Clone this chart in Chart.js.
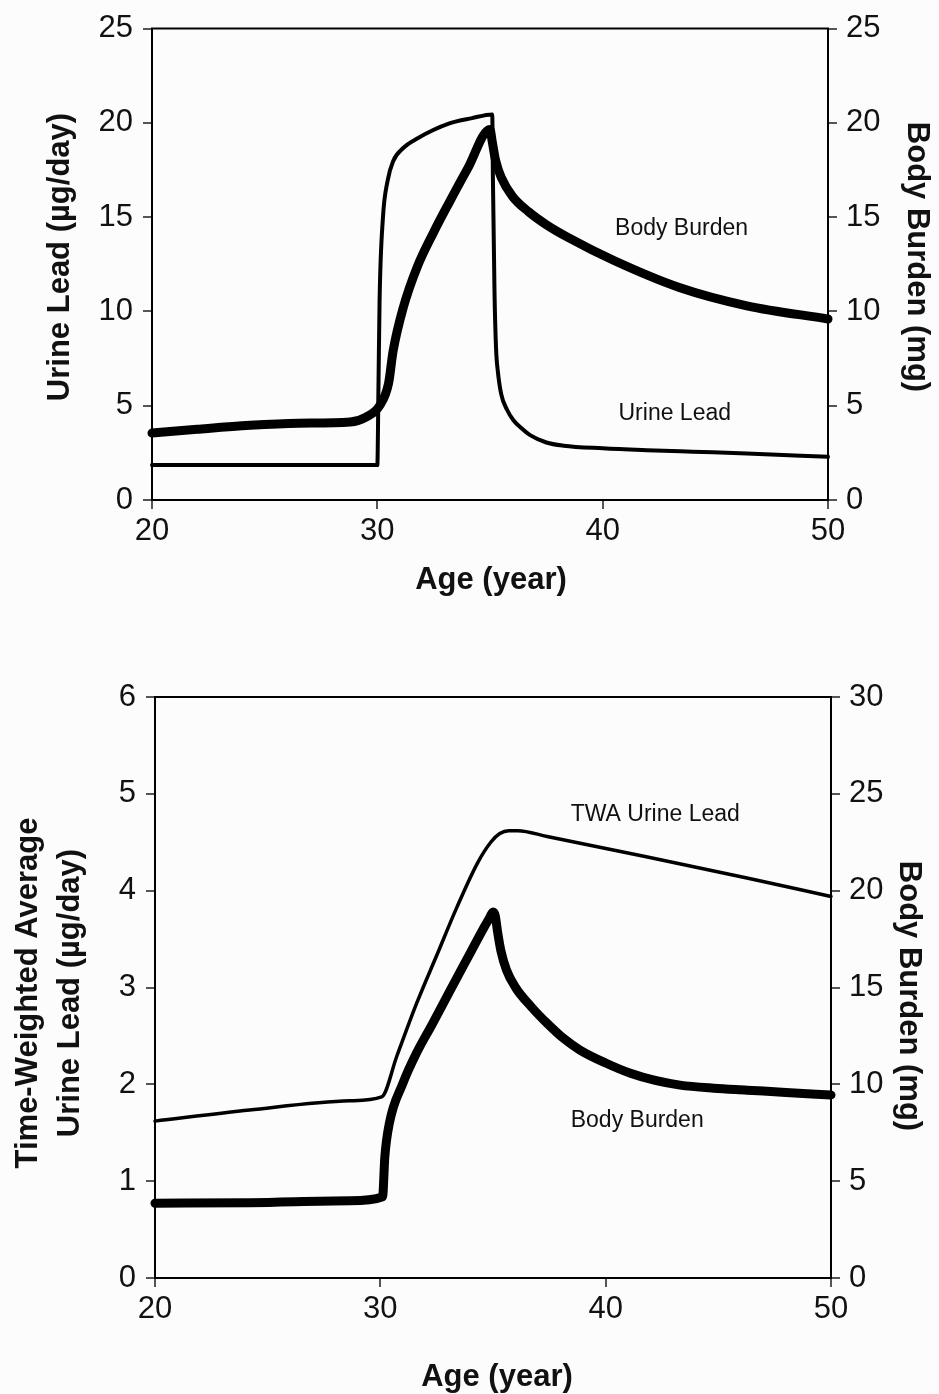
<!DOCTYPE html>
<html>
<head>
<meta charset="utf-8">
<script src="https://cdn.jsdelivr.net/npm/chart.js@4.4.1/dist/chart.umd.min.js"></script>
<style>
  html, body { margin: 0; padding: 0; background: #fcfcfc; }
  #wrap { position: relative; width: 939px; height: 1394px; }
  .panel { position: absolute; left: 0; width: 939px; }
  #p1 { top: 0; height: 600px; }
  #p2 { top: 600px; height: 794px; }
</style>
</head>
<body>
<div id="wrap">
  <div class="panel" id="p1"><canvas id="c1"></canvas></div>
  <div class="panel" id="p2"><canvas id="c2"></canvas></div>
</div>
<script>
// ---- Upper panel: daily urine lead and body burden ----
const urineAge  = [20, 25, 30.0, 30.05, 30.1, 30.25, 30.45, 30.7, 31.15, 31.75, 33.2, 34.2, 35.1,
                   35.13, 35.2, 35.27, 35.35, 35.5, 35.75, 36.04, 36.4, 36.78, 37.5, 38.26, 40.0,
                   41.96, 44.0, 46.4, 50];
const urineLead = [1.85, 1.86, 1.85, 6.0, 10.6, 15.0, 16.9, 17.97, 18.67, 19.16, 19.97, 20.25, 20.45,
                   17.0, 11.0, 8.0, 6.8, 5.6, 4.8, 4.23, 3.8, 3.44, 3.05, 2.88, 2.74,
                   2.64, 2.56, 2.47, 2.29];

const burdenAge = [20, 22, 24.35, 26.5, 28.8, 29.5, 30.1, 30.5, 30.7, 31.15, 31.75, 32.5, 33.2, 34.0,
                   35.0, 35.1, 35.25, 35.5, 36.0, 36.7, 37.5, 38.5, 40.5, 43.4, 46.4, 50];
const burden    = [3.55, 3.75, 3.96, 4.07, 4.14, 4.4, 5.0, 6.2, 7.9, 10.2, 12.3, 14.2, 15.8, 17.56,
                   19.65, 19.0, 18.0, 17.1, 16.1, 15.3, 14.6, 13.9, 12.7, 11.27, 10.3, 9.6];

// ---- Lower panel: time-weighted average urine lead and body burden ----
const twaAge    = [20, 24.2, 28.65, 30.06, 30.73, 31.6, 32.5, 33.4, 34.3, 34.9, 35.3, 35.7, 36.1,
                   37.4, 41.8, 46.27, 50];
const twaLead   = [1.62, 1.735, 1.83, 1.87, 2.29, 2.83, 3.33, 3.83, 4.28, 4.5, 4.59, 4.62, 4.62,
                   4.56, 4.35, 4.13, 3.94];

const burden2Age = [20, 24.2, 28.65, 30.1, 30.2, 30.4, 31.0, 31.6, 32.3, 33.1, 34.0, 34.6, 34.85, 35.0,
                    35.1, 35.2, 35.35, 35.6, 36.0, 36.7, 37.4, 38.1, 38.86, 40.0, 41.1, 42.2, 43.3,
                    44.8, 46.27, 48.0, 50];
const burden2    = [3.86, 3.89, 3.99, 4.2, 6.26, 7.99, 10.05, 11.6, 13.1, 14.85, 16.8, 18.1, 18.6, 18.9,
                    18.7, 17.9, 16.9, 15.9, 15.0, 14.0, 13.15, 12.4, 11.77, 11.1, 10.57, 10.2, 9.96,
                    9.8, 9.7, 9.58, 9.45];

const ageTicks = { min: 20, max: 50, step: 10 };
const top1Range = { min: 0, max: 25, step: 5 };
const top2Range = { min: 0, max: 25, step: 5 };
const bot1Range = { min: 0, max: 6, step: 1 };
const bot2Range = { min: 0, max: 30, step: 5 };

const FONT = '"Liberation Sans", Arial, Helvetica, sans-serif';
const INK = '#111';

const pts = (xs, ys) => xs.map((x, i) => ({ x, y: ys[i] }));

// Frame top edge, axis titles and in-plot labels
const frameText = {
  id: 'frameText',
  afterDraw(chart, args, o) {
    const { ctx, chartArea: a } = chart;
    ctx.save();
    ctx.strokeStyle = '#000';
    ctx.lineWidth = 2;
    ctx.beginPath();
    ctx.moveTo(a.left - 1, a.top);
    ctx.lineTo(a.right + 1, a.top);
    ctx.stroke();

    ctx.fillStyle = INK;
    ctx.textAlign = 'center';
    ctx.textBaseline = 'middle';
    ctx.font = 'bold 31px ' + FONT;
    o.left.forEach((line, i) => {
      ctx.save();
      ctx.translate(o.leftX[i], o.leftY);
      ctx.rotate(-Math.PI / 2);
      ctx.fillText(line, 0, 0);
      ctx.restore();
    });
    ctx.save();
    ctx.translate(o.rightX, o.rightY);
    ctx.rotate(Math.PI / 2);
    ctx.fillText(o.right, 0, 0);
    ctx.restore();
    ctx.textBaseline = 'alphabetic';
    ctx.fillText(o.bottom, o.bottomX, o.bottomY);

    ctx.font = '23px ' + FONT;
    ctx.textBaseline = 'middle';
    o.notes.forEach(n => {
      const px = chart.scales.x.getPixelForValue(n.x);
      const py = chart.scales[n.axis].getPixelForValue(n.y);
      ctx.fillText(n.text, px, py);
    });
    ctx.restore();
  }
};

function axis(pos, range, width, pad) {
  return {
    type: 'linear',
    position: pos,
    min: range.min,
    max: range.max,
    ticks: { stepSize: range.step, font: { family: FONT, size: 31 }, color: INK, padding: pad },
    grid: { drawOnChartArea: false, drawTicks: true, tickLength: 9, color: '#555', lineWidth: 2 },
    border: { display: true, color: '#000', width: 2 },
    afterFit(s) { s.width = width; }
  };
}

function makeChart(id, cfg) {
  return new Chart(document.getElementById(id), {
    type: 'line',
    data: { datasets: cfg.datasets },
    options: {
      responsive: true,
      maintainAspectRatio: false,
      animation: false,
      events: [],
      layout: { padding: { top: cfg.top, left: 0, right: 0, bottom: 0 } },
      elements: { point: { radius: 0 } },
      scales: {
        x: {
          type: 'linear',
          position: 'bottom',
          min: ageTicks.min,
          max: ageTicks.max,
          ticks: { stepSize: ageTicks.step, font: { family: FONT, size: 31 }, color: INK, padding: 4 },
          grid: { drawOnChartArea: false, drawTicks: true, tickLength: 9, color: '#555', lineWidth: 2 },
          border: { display: true, color: '#000', width: 2 },
          afterFit(s) { s.height = cfg.xHeight; }
        },
        y: axis('left', cfg.left, cfg.leftW, 10),
        y2: axis('right', cfg.right, cfg.rightW, 9)
      },
      plugins: {
        legend: { display: false },
        tooltip: { enabled: false },
        frameText: cfg.text
      }
    },
    plugins: [frameText]
  });
}

function series(data, yAxisID, width) {
  return {
    data, yAxisID,
    borderColor: '#000',
    borderWidth: width,
    borderCapStyle: 'round',
    borderJoinStyle: 'round',
    cubicInterpolationMode: 'monotone',
    pointRadius: 0,
    fill: false,
    clip: false
  };
}

makeChart('c1', {
  top: 27, xHeight: 100, leftW: 152, rightW: 111,
  left: top1Range, right: top2Range,
  datasets: [
    series(pts(burdenAge, burden), 'y2', 9),
    series(pts(urineAge, urineLead), 'y', 4)
  ],
  text: {
    left: ['Urine Lead (\u00b5g/day)'], leftX: [60], leftY: 257,
    right: 'Body Burden (mg)', rightX: 917, rightY: 257,
    bottom: 'Age (year)', bottomX: 491, bottomY: 589,
    notes: [
      { text: 'Body Burden', x: 43.5, y: 14.4, axis: 'y' },
      { text: 'Urine Lead', x: 43.2, y: 4.6, axis: 'y' }
    ]
  }
});

makeChart('c2', {
  top: 97, xHeight: 116, leftW: 155, rightW: 108,
  left: bot1Range, right: bot2Range,
  datasets: [
    series(pts(burden2Age, burden2), 'y2', 9),
    series(pts(twaAge, twaLead), 'y', 3.5)
  ],
  text: {
    left: ['Time-Weighted Average', 'Urine Lead (\u00b5g/day)'], leftX: [28, 70], leftY: 393,
    right: 'Body Burden (mg)', rightX: 909, rightY: 396,
    bottom: 'Age (year)', bottomX: 497, bottomY: 786,
    notes: [
      { text: 'TWA Urine Lead', x: 42.2, y: 4.78, axis: 'y' },
      { text: 'Body Burden', x: 41.4, y: 1.62, axis: 'y' }
    ]
  }
});
</script>
</body>
</html>
